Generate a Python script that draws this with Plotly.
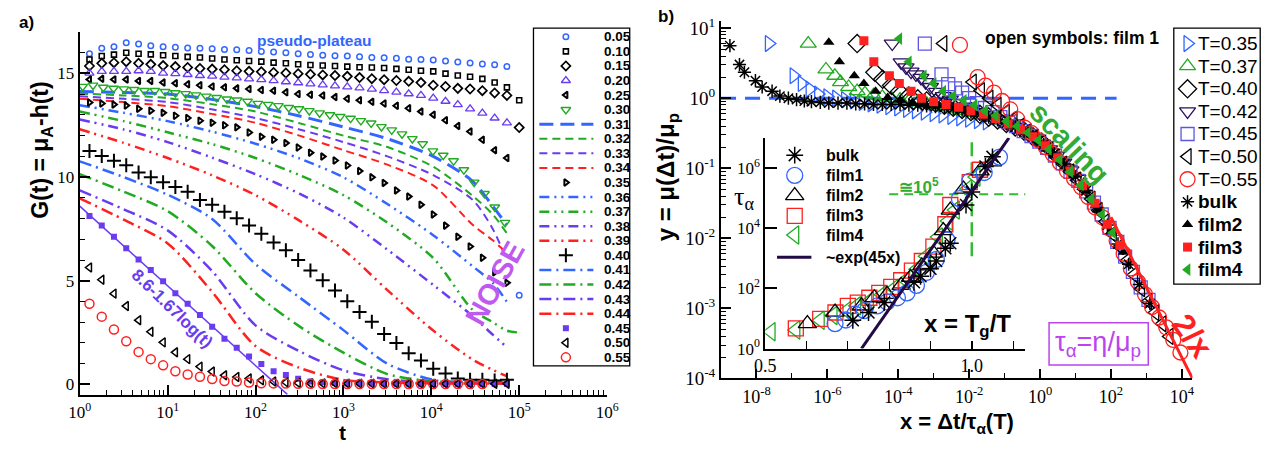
import plotly.graph_objects as go

W, H = 1284, 452

# ======================= PANEL a) data =======================
T_GRID = [1.29, 1.78, 2.45, 3.38, 4.67, 6.43, 8.88, 12.24, 16.89, 23.3, 32.1, 44.3, 61.1, 84.4,
          116.4, 160.5, 221.4, 305.4, 421.3, 581.3, 801.7, 1106, 1525, 2104, 2903, 4004, 5524,
          7620, 10510, 14500, 20000, 27590, 38060, 52500, 72420, 99900]
G_005 = [15.95, 16.21, 16.29, 16.48, 16.42, 16.33, 16.29, 16.26, 16.23, 16.21, 16.19, 16.16, 16.14,
         16.11, 16.06, 16.03, 16.0, 15.95, 15.91, 15.88, 15.85, 15.84, 15.8, 15.77, 15.76, 15.73,
         15.69, 15.67, 15.65, 15.6, 15.55, 15.5, 15.45, 15.42, 15.33, 4.3]
G_010 = [15.67, 15.84, 15.91, 16.0, 15.95, 15.92, 15.88, 15.84, 15.8, 15.77, 15.72, 15.67, 15.64,
         15.6, 15.57, 15.52, 15.49, 15.44, 15.41, 15.38, 15.36, 15.33, 15.3, 15.29, 15.26, 15.22,
         15.18, 15.13, 15.1, 14.99, 14.9, 14.84, 14.74, 14.56, 14.33, 13.71]
G_015 = [15.36, 15.49, 15.52, 15.57, 15.49, 15.44, 15.38, 15.33, 15.29, 15.24, 15.21, 15.18, 15.13,
         15.1, 15.08, 15.05, 15.02, 14.99, 14.96, 14.93, 14.9, 14.86, 14.8, 14.75, 14.7, 14.66,
         14.62, 14.56, 14.43, 14.37, 14.28, 14.25, 14.17, 14.06, 13.94, 12.39]
G_020 = [15.02, 15.1, 15.1, 15.1, 15.13, 15.1, 15.02, 14.99, 14.95, 14.9, 14.87, 14.82, 14.79,
         14.74, 14.7, 14.65, 14.6, 14.55, 14.5, 14.45, 14.4, 14.35, 14.3, 14.24, 14.17, 14.1,
         14.02, 13.94, 13.81, 13.66, 13.5, 13.29, 13.09, 12.85, 12.62, None]
G_025 = [14.71, 14.74, 14.71, 14.71, 14.64, 14.64, 14.56, 14.53, 14.48, 14.43, 14.37, 14.33, 14.28,
         14.25, 14.2, 14.17, 14.09, 14.01, 13.97, 13.94, 13.86, 13.78, 13.71, 13.63, 13.55, 13.44,
         13.32, 13.16, 13.01, 12.74, 12.47, 12.2, 11.8, 11.3, 10.92, None]
T_030 = [1.08, 1.415, 1.853, 2.427, 3.18, 4.164, 5.454, 7.143, 9.357, 12.25, 16.05, 21.02, 27.54,
         36.07, 47.24, 61.87, 81.04, 106.1, 139.0, 182.1, 238.5, 312.4, 409.2, 535.9, 702.0, 919.4,
         1204, 1578, 2066, 2706, 3544, 4643, 6081, 7965, 10430, 13660, 17890, 23440, 30700, 40210,
         52670, 68990]
G_030 = [14.37, 14.43, 14.33, 14.28, 14.25, 14.22, 14.17, 14.17, 14.12, 14.06, 14.02, 13.96, 13.9,
         13.83, 13.76, 13.71, 13.65, 13.55, 13.5, 13.44, 13.35, 13.29, 13.2, 13.09, 13.0, 12.92,
         12.83, 12.72, 12.6, 12.43, 12.27, 12.08, 11.85, 11.6, 11.26, 11.05, 10.78, 10.35, 9.75,
         9.2, 8.55, 7.81]
G_035 = [13.6, 13.55, 13.5, 13.45, 13.3, 13.2, 13.1, 12.96, 12.85, 12.72, 12.62, 12.5, 12.4, 12.15,
         11.95, 11.8, 11.64, 11.43, 11.18, 10.99, 10.8, 10.56, 10.29, 9.99, 9.72, 9.36, 9.06, 8.67,
         8.2, 7.66, 7.12, 6.65, 6.11, 5.41, 4.9, None]
G_040 = [11.26, 11.02, 10.79, 10.57, 10.22, 9.99, 9.75, 9.52, 9.29, 8.9, 8.67, 8.33, 8.01, 7.67,
         7.27, 6.84, 6.47, 6.0, 5.49, 5.02, 4.53, 4.01, 3.49, 3.02, 2.43, 2.0, 1.5, 1.16, 0.76,
         0.53, 0.29, 0.23, 0.23, 0.19, 0.23, None]
G_045 = [8.12, 7.66, 7.12, 6.57, 6.03, 5.52, 4.98, 4.4, 3.89, 3.35, 2.78, 2.2, 1.77, 1.35, 0.98,
         0.64, 0.45, 0.27, 0.14, 0.1, 0.07, 0.05, 0.05, 0.04, 0.04, 0.03, 0.03, 0.03, 0.02, 0.02,
         0.02, 0.02, 0.02, 0.02, 0.02, None]
G_050 = [5.64, 5.05, 4.38, 3.78, 3.1, 2.54, 2.03, 1.55, 1.22, 0.86, 0.62, 0.44, 0.36, 0.29, 0.2,
         0.14, 0.1, 0.07, 0.05, 0.05, 0.05, 0.04, 0.04, 0.04, 0.03, 0.03, 0.03, 0.03, 0.03, 0.03,
         0.03, 0.03, 0.03, 0.03, 0.03, None]
G_055 = [3.89, 3.27, 2.65, 2.08, 1.57, 1.22, 0.92, 0.64, 0.48, 0.37, 0.26, 0.17, 0.14, 0.09, 0.06,
         0.05, 0.04, 0.03, 0.03, 0.02, 0.02, 0.02, 0.02, 0.02, 0.02, 0.02, 0.02, 0.02, 0.02, 0.02,
         0.02, 0.02, 0.02, None, None, None]

LINE_T = [1, 3.16, 10, 31.6, 100, 316, 1000, 3162, 10500, 29500, 50000, 72000]
T_037 = [1, 3.16, 10, 31.6, 100, 316, 1000, 3162, 10500, 29500, 50000, 72000, 100000]
G_031 = [14.13, 14.08, 14.01, 13.75, 13.4, 12.95, 12.42, 11.85, 11.0, 9.8, 8.6, 7.7]
G_032 = [14.03, 13.94, 13.81, 13.52, 13.16, 12.6, 12.0, 11.45, 10.5, 9.1, 8.2, 7.3]
G_033 = [13.9, 13.78, 13.62, 13.27, 12.85, 12.3, 11.69, 11.0, 10.1, 8.9, 7.5, 6.0]
G_034 = [13.78, 13.62, 13.42, 13.05, 12.62, 12.0, 11.3, 10.6, 9.6, 7.7, 6.95, 6.35]
G_036 = [13.47, 13.1, 12.7, 12.2, 11.61, 10.9, 9.99, 8.7, 7.2, 5.7, 4.9, 4.0]
G_037 = [13.16, 12.7, 12.16, 11.6, 10.92, 10.1, 9.13, 7.8, 6.1, 3.6, 3.0, 2.6, 2.5]
G_038 = [12.78, 12.3, 11.69, 10.95, 10.14, 9.2, 8.05, 6.5, 4.8, 3.3, 2.4, 1.8]
G_039 = [12.31, 11.65, 10.92, 10.1, 9.13, 7.9, 6.5, 4.55, 2.6, 1.2, 0.7, 0.4]
G_041 = [10.76, 10.0, 9.15, 8.0, 5.8, 4.2, 2.62, 1.0, 0.22, 0.12, 0.1, 0.1]
G_042 = [10.14, 9.3, 8.36, 6.7, 4.4, 2.8, 1.53, 0.5, 0.15, 0.1, 0.08, 0.08]
G_043 = [9.36, 8.45, 7.43, 5.5, 2.85, 1.6, 0.68, 0.25, 0.1, 0.06, 0.05, 0.05]
G_044 = [8.98, 7.95, 6.8, 4.5, 1.85, 0.8, 0.22, 0.1, 0.05, 0.04, 0.04, 0.04]

FIT_T = [1, 230]
FIT_G = [8.6, -0.48]

LEFT_LABELS = ['0.05', '0.10', '0.15', '0.20', '0.25', '0.30', '0.31', '0.32', '0.33', '0.34',
               '0.35', '0.36', '0.37', '0.38', '0.39', '0.40', '0.41', '0.42', '0.43', '0.44',
               '0.45', '0.50', '0.55']

# ======================= PANEL b) data (log10 values) =======================
R35_LX = [-7.65, -6.95, -6.72, -6.5, -6.26, -6.0, -5.75, -5.5, -5.25, -5.0, -4.75, -4.5, -4.25,
          -4.0, -3.75, -3.5, -3.25, -3.0, -2.75, -2.5, -2.25, -2.0, -1.75, -1.5]
R35_LY = [0.78, 0.32, 0.21, 0.13, 0.06, 0.02, 0.0, -0.02, -0.04, -0.06, -0.08, -0.1, -0.12, -0.14,
          -0.16, -0.18, -0.2, -0.22, -0.24, -0.26, -0.28, -0.3, -0.32, -0.34]
R37_LX = [-6.54, -6.04, -5.79, -5.63, -5.4, -5.16, -4.94, -4.7, -4.45, -4.2, -3.95, -3.7, -3.45,
          -3.2, -2.95, -2.7, -2.45, -2.2, -1.95, -1.7, -1.45, -1.2]
R37_LY = [0.78, 0.41, 0.32, 0.23, 0.16, 0.1, 0.07, 0.04, 0.02, 0.0, -0.02, -0.04, -0.06, -0.08,
          -0.1, -0.12, -0.15, -0.18, -0.21, -0.25, -0.28, -0.32]
R40_LX = [-5.16, -4.66, -4.44, -4.19, -3.97, -3.7, -3.45, -3.2, -2.95, -2.7, -2.45, -2.2, -1.95,
          -1.7, -1.45, -1.2, -0.95, -0.7, -0.45, -0.2, 0.05]
R40_LY = [0.78, 0.37, 0.27, 0.18, 0.09, 0.03, -0.01, -0.04, -0.07, -0.1, -0.13, -0.16, -0.19,
          -0.23, -0.27, -0.31, -0.36, -0.41, -0.47, -0.55, -0.63]
R42_LX = [-4.17, -3.92, -3.78, -3.64, -3.5, -3.36, -3.23, -3.09, -2.92, -2.73, -2.53, -2.33, -2.13,
          -1.93, -1.73, -1.53, -1.33, -1.13, -0.93, -0.73, -0.53, -0.33, -0.13, 0.07, 0.27, 0.47,
          0.67, 0.87, 1.07]
R42_LY = [0.78, 0.51, 0.44, 0.38, 0.34, 0.29, 0.23, 0.16, 0.09, 0.03, -0.02, -0.07, -0.12, -0.16,
          -0.2, -0.24, -0.28, -0.32, -0.36, -0.41, -0.46, -0.52, -0.58, -0.65, -0.73, -0.82, -0.92,
          -1.03, -1.15]
R45_LX = [-3.25, -2.78, -2.59, -2.4, -2.2, -2.0, -1.78, -1.56, -1.34, -1.12, -0.9, -0.68, -0.46,
          -0.24, -0.02, 0.2, 0.42, 0.64, 0.86, 1.08, 1.3, 1.52, 1.74, 1.96, 2.18, 2.4, 2.62, 2.84,
          3.06]
R45_LY = [0.78, 0.34, 0.2, 0.14, 0.08, 0.0, -0.07, -0.14, -0.2, -0.27, -0.34, -0.4, -0.47, -0.54,
          -0.62, -0.71, -0.82, -0.93, -1.05, -1.18, -1.33, -1.49, -1.66, -1.85, -2.05, -2.26, -2.48,
          -2.7, -2.88]
R50_LX = [-2.73, -1.9, -1.67, -1.43, -1.2, -0.97, -0.75, -0.55, -0.35, -0.15, 0.05, 0.25, 0.45,
          0.65, 0.85, 1.05, 1.25, 1.45, 1.65, 1.85, 2.05, 2.25, 2.45, 2.65, 2.85, 3.05, 3.25, 3.45,
          3.65]
R50_LY = [0.78, 0.23, 0.11, 0.0, -0.1, -0.2, -0.3, -0.4, -0.48, -0.56, -0.64, -0.74, -0.84, -0.94,
          -1.05, -1.17, -1.3, -1.44, -1.6, -1.76, -1.94, -2.12, -2.32, -2.52, -2.72, -2.9, -3.06,
          -3.22, -3.4]
R55_LX = [-2.26, -1.76, -1.54, -1.3, -1.07, -0.84, -0.64, -0.44, -0.24, -0.04, 0.16, 0.36, 0.56,
          0.76, 0.96, 1.16, 1.36, 1.56, 1.76, 1.96, 2.16, 2.36, 2.56, 2.76, 2.96, 3.16, 3.36, 3.56,
          3.76, 3.96]
R55_LY = [0.76, 0.3, 0.18, 0.08, -0.04, -0.16, -0.3, -0.42, -0.5, -0.6, -0.7, -0.8, -0.92, -1.04,
          -1.15, -1.27, -1.41, -1.56, -1.7, -1.86, -2.03, -2.22, -2.43, -2.62, -2.8, -2.98, -3.13,
          -3.27, -3.45, -3.63]
BULK_LX = [-8.75, -8.48, -8.34, -8.03, -7.84, -7.56, -7.34, -7.1, -6.87, -6.65, -6.45, -6.2, -5.96,
           -5.7, -5.45, -5.2, -4.95, -4.7, -4.45, -4.2, -3.95, -3.7, -3.45, -3.2, -2.95, -2.7,
           -2.45, -2.2, -1.95, -1.7, -1.45, -1.2, -0.95, -0.7, -0.45, -0.2, 0.1, 0.4, 0.7, 1.0,
           1.3, 1.6, 1.9, 2.2, 2.5, 2.8, 3.1]
BULK_LY = [0.75, 0.48, 0.37, 0.25, 0.16, 0.1, 0.03, 0.0, -0.02, -0.04, -0.05, -0.06, -0.07, -0.07,
           -0.07, -0.08, -0.08, -0.09, -0.09, -0.09, -0.09, -0.1, -0.1, -0.11, -0.12, -0.13, -0.15,
           -0.17, -0.2, -0.23, -0.27, -0.31, -0.36, -0.41, -0.48, -0.55, -0.66, -0.79, -0.94,
           -1.12, -1.32, -1.56, -1.81, -2.08, -2.37, -2.66, -2.93]
F2_LX = [-5.96, -5.66, -5.24, -4.97, -4.64, -4.3, -3.95, -3.6, -3.25, -2.9, -2.55, -2.2, -1.85,
         -1.5, -1.15, -0.8, -0.45, -0.1, 0.25, 0.6, 0.95, 1.3, 1.65, 2.0, 2.35]
F2_LY = [0.8, 0.52, 0.32, 0.21, 0.1, 0.01, -0.03, -0.06, -0.08, -0.1, -0.13, -0.17, -0.21, -0.26,
         -0.32, -0.4, -0.48, -0.58, -0.72, -0.9, -1.1, -1.32, -1.6, -1.9, -2.2]
F3_LX = [-4.97, -4.69, -4.25, -3.97, -3.64, -3.34, -3.0, -2.65, -2.3, -1.95, -1.6, -1.25, -0.9,
         -0.55, -0.2, 0.15, 0.5, 0.85, 1.2, 1.55, 1.9, 2.25]
F3_LY = [0.82, 0.52, 0.32, 0.21, 0.1, 0.0, -0.05, -0.09, -0.13, -0.18, -0.23, -0.29, -0.37, -0.45,
         -0.55, -0.68, -0.85, -1.04, -1.25, -1.5, -1.8, -2.1]
F4_LX = [-3.97, -3.7, -3.28, -3.0, -2.73, -2.45, -2.15, -1.85, -1.55, -1.25, -0.95, -0.65, -0.35,
         -0.05, 0.25, 0.55, 0.85, 1.15, 1.45, 1.75, 2.05]
F4_LY = [0.85, 0.52, 0.32, 0.21, 0.1, 0.03, -0.03, -0.1, -0.18, -0.25, -0.33, -0.4, -0.49, -0.6,
         -0.73, -0.88, -1.05, -1.24, -1.44, -1.66, -1.92]
ONE_LX = [-9, 2.16]
ONE_Y = [1, 1]
INV_X = [100, 20000]
INV_Y = [0.02, 0.0001]

# inset: x = Tg/T, log10(tau)
IN_BULK_X = [0.712, 0.75, 0.788, 0.86, 0.876, 0.9, 0.914, 0.936, 0.948, 0.986, 1.0, 1.033, 1.05]
IN_BULK_LY = [0.94, 1.2, 1.53, 2.2, 2.4, 2.65, 2.91, 3.33, 3.5, 4.77, 5.2, 6.05, 6.37]
IN_F1_X = [0.669, 0.695, 0.717, 0.74, 0.771, 0.795, 0.82, 0.843, 0.866, 0.89, 0.914, 0.94, 0.97,
           0.995, 1.03, 1.067]
IN_F1_LY = [0.83, 0.95, 1.15, 1.26, 1.42, 1.55, 1.69, 1.85, 2.1, 2.53, 2.96, 3.6, 4.98, 5.56,
            5.85, 6.36]
IN_F2_X = [0.602, 0.669, 0.733, 0.764, 0.795, 0.829, 0.852, 0.879, 0.907, 0.931, 0.948, 0.98,
           1.02, 1.05]
IN_F2_LY = [0.83, 1.21, 1.42, 1.69, 1.8, 2.1, 2.37, 2.75, 3.17, 3.92, 4.6, 5.3, 5.9, 6.2]
IN_F3_X = [0.574, 0.633, 0.67, 0.7, 0.724, 0.752, 0.776, 0.805, 0.829, 0.855, 0.879, 0.907,
           0.936, 0.948, 0.995, 1.02]
IN_F3_LY = [0.67, 0.99, 1.2, 1.42, 1.53, 1.69, 1.85, 2.05, 2.27, 2.59, 2.91, 3.39, 4.13, 4.77,
            5.53, 5.94]
IN_F4_X = [0.514, 0.574, 0.633, 0.664, 0.697, 0.721, 0.752, 0.783, 0.812, 0.84, 0.867, 0.89,
           0.919, 0.943, 0.96, 0.99, 1.01]
IN_F4_LY = [0.56, 0.62, 0.94, 1.1, 1.26, 1.42, 1.58, 1.79, 2.0, 2.27, 2.64, 3.07, 3.71, 4.24, 4.6,
            5.3, 5.7]
EXP_X = [0.733, 1.09]
EXP_LY = [0.0, 7.0]
GH_X = [0.80, 1.13]
GH_LY = [5.13, 5.13]
GV_X = [1.0, 1.0]
GV_LY = [3.07, 7.0]

RIGHT_LABELS = ['T=0.35', 'T=0.37', 'T=0.40', 'T=0.42', 'T=0.45', 'T=0.50', 'T=0.55',
                'bulk', 'film2', 'film3', 'film4']
INSET_LABELS = ['bulk', 'film1', 'film2', 'film3', 'film4', '~exp(45x)']

# ======================= styling =======================
BLUE = '#3366ff'
GREEN = '#22aa22'
VIOLET = '#6a3cf0'
RED = '#ff2020'
BLACK = '#000000'
INDIGO = '#2a0f5c'
LAV = '#5b55e6'
DARK = '#220a44'
SANS = 'Liberation Sans'
SERIF = 'Liberation Serif'


def fx(p):
    return p / W


def fy(p):
    return 1 - p / H


def pow10(vals):
    return [10 ** v for v in vals]


fig = go.Figure()


def add(x, y, ax, **kw):
    xa, ya = ax
    fig.add_trace(go.Scatter(x=x, y=y, xaxis=xa, yaxis=ya, showlegend=False,
                             hoverinfo='skip', **kw))


A = ('x', 'y')
B = ('x2', 'y2')
C = ('x3', 'y3')
L = ('x4', 'y4')

DASH1 = '14px,7px'
DASH2 = '8px,5px'
DDOT = '10px,5px,2px,5px,2px,5px'
DDASH = '12px,5px,2px,5px'

LINE_STYLE = {
    '0.31': (LINE_T, G_031, BLUE, 3, DASH1),
    '0.32': (LINE_T, G_032, GREEN, 2, DASH2),
    '0.33': (LINE_T, G_033, VIOLET, 2, DASH2),
    '0.34': (LINE_T, G_034, RED, 2, DASH2),
    '0.36': (LINE_T, G_036, BLUE, 2.5, DDOT),
    '0.37': (T_037, G_037, GREEN, 2.5, DDOT),
    '0.38': (LINE_T, G_038, VIOLET, 2.5, DDOT),
    '0.39': (LINE_T, G_039, RED, 2.5, DDOT),
    '0.41': (LINE_T, G_041, BLUE, 2.5, DDASH),
    '0.42': (LINE_T, G_042, GREEN, 2.5, DDASH),
    '0.43': (LINE_T, G_043, VIOLET, 2.5, DDASH),
    '0.44': (LINE_T, G_044, RED, 2.5, DDASH),
}
MARK_STYLE = {
    '0.05': (T_GRID, G_005, 'circle-open', 5.5, BLUE, 1.5),
    '0.10': (T_GRID, G_010, 'square-open', 5, BLACK, 1.6),
    '0.15': (T_GRID, G_015, 'diamond-open', 7, BLACK, 1.7),
    '0.20': (T_GRID, G_020, 'triangle-up-open', 8, VIOLET, 1.3),
    '0.25': (T_GRID, G_025, 'triangle-left-open', 6, BLACK, 2.0),
    '0.30': (T_030, G_030, 'triangle-down-open', 8.5, GREEN, 1.4),
    '0.35': (T_GRID, G_035, 'triangle-right-open', 6, BLACK, 2.0),
    '0.40': (T_GRID, G_040, 'cross-thin-open', 10, BLACK, 2),
    '0.45': (T_GRID, G_045, 'square', 6, VIOLET, 0),
    '0.50': (T_GRID, G_050, 'triangle-left-open', 8, BLACK, 1.5),
    '0.55': (T_GRID, G_055, 'circle-open', 9, RED, 1.5),
}

# ---- panel a traces ----
for lab, (tx, gy, col, wd, ds) in LINE_STYLE.items():
    add(tx, gy, A, mode='lines', line=dict(color=col, width=wd, dash=ds, shape='spline',
                                           smoothing=0.8))
add(FIT_T, FIT_G, A, mode='lines', line=dict(color=VIOLET, width=1.5))
for lab, (tx, gy, sym, sz, col, lw) in MARK_STYLE.items():
    add(tx, gy, A, mode='markers',
        marker=dict(symbol=sym, size=sz, color=col, line=dict(color=col, width=lw)))

# ---- panel b traces ----
add(pow10(ONE_LX), ONE_Y, B, mode='lines', line=dict(color=BLUE, width=3, dash='15px,9px'))
RIGHT_SERIES = [
    (R35_LX, R35_LY, 'triangle-right-open', 14, BLUE, 1.3),
    (R37_LX, R37_LY, 'triangle-up-open', 14, GREEN, 1.3),
    (R40_LX, R40_LY, 'diamond-open', 14, BLACK, 1.3),
    (R42_LX, R42_LY, 'triangle-down-open', 14, INDIGO, 1.3),
    (R45_LX, R45_LY, 'square-open', 13, LAV, 1.3),
    (R50_LX, R50_LY, 'triangle-left-open', 14, BLACK, 1.3),
    (R55_LX, R55_LY, 'circle-open', 15, RED, 1.3),
    (BULK_LX, BULK_LY, 'asterisk-open', 11, BLACK, 1.5),
    (F2_LX, F2_LY, 'triangle-up', 10, BLACK, 0),
    (F3_LX, F3_LY, 'square', 9, RED, 0),
    (F4_LX, F4_LY, 'triangle-left', 11, GREEN, 0),
]
for lx, ly, sym, sz, col, lw in RIGHT_SERIES:
    add(pow10(lx), pow10(ly), B, mode='markers',
        marker=dict(symbol=sym, size=sz, color=col, line=dict(color=col, width=lw)))
add(INV_X, INV_Y, B, mode='lines', line=dict(color=RED, width=3))

# ---- inset traces ----
add(GH_X, pow10(GH_LY), C, mode='lines', line=dict(color='#33bb33', width=2, dash='9px,6px'))
add(GV_X, pow10(GV_LY), C, mode='lines', line=dict(color='#33bb33', width=2.5, dash='14px,6px'))
INSET_SERIES = [
    (IN_F4_X, IN_F4_LY, 'triangle-left-open', 16, GREEN, 1.3),
    (IN_F3_X, IN_F3_LY, 'square-open', 15, RED, 1.3),
    (IN_F2_X, IN_F2_LY, 'triangle-up-open', 16, BLACK, 1.3),
    (IN_F1_X, IN_F1_LY, 'circle-open', 16, BLUE, 1.3),
    (IN_BULK_X, IN_BULK_LY, 'asterisk-open', 14, BLACK, 1.5),
]
for xx, ly, sym, sz, col, lw in INSET_SERIES:
    add(xx, pow10(ly), C, mode='markers',
        marker=dict(symbol=sym, size=sz, color=col, line=dict(color=col, width=lw)))
add(EXP_X, pow10(EXP_LY), C, mode='lines', line=dict(color=DARK, width=3))

# ======================= hand-drawn legends (overlay axes in pixels) =======================
annotations = []


def text(xp, yp, s, size, color=BLACK, family=SANS, angle=0, xanchor='center'):
    annotations.append(dict(x=fx(xp), y=fy(yp), xref='paper', yref='paper', text=s,
                            showarrow=False, textangle=angle, xanchor=xanchor,
                            yanchor='middle', font=dict(family=family, size=size,
                                                        color=color)))


# left legend
LL_ROW0, LL_DY, LL_SYM, LL_L0, LL_L1, LL_TXT = 32, 15.14, 565, 538, 593, 602
for i, lab in enumerate(LEFT_LABELS):
    yy = LL_ROW0 + i * LL_DY
    if lab in LINE_STYLE:
        _, _, col, wd, ds = LINE_STYLE[lab]
        add([LL_L0, LL_L1], [yy, yy], L, mode='lines', line=dict(color=col, width=wd, dash=ds))
    else:
        _, _, sym, sz, col, lw = MARK_STYLE[lab]
        add([LL_SYM], [yy], L, mode='markers',
            marker=dict(symbol=sym, size=sz, color=col, line=dict(color=col, width=lw)))
    text(LL_TXT, yy, '<b>%s</b>' % lab, 13.5, xanchor='left')

# right legend
RL_ROW0, RL_DY, RL_SYM, RL_TXT = 39, 23.5, 1198, 1207
for i, lab in enumerate(RIGHT_LABELS):
    yy = RL_ROW0 + i * RL_DY
    _, _, sym, sz, col, lw = RIGHT_SERIES[i]
    add([RL_SYM], [yy], L, mode='markers',
        marker=dict(symbol=sym, size=sz, color=col, line=dict(color=col, width=lw)))
    s = lab if lab.startswith('T=') else '<b>%s</b>' % lab
    text(RL_TXT, yy, s, 19, xanchor='left')

# inset legend
IL_ROWS = [155, 176, 197, 218, 238, 261]
IL_SYM, IL_L0, IL_L1, IL_TXT = 798, 780, 815, 828
INSET_LEG_STYLE = [INSET_SERIES[4], INSET_SERIES[3], INSET_SERIES[2], INSET_SERIES[1],
                   INSET_SERIES[0]]
for i, lab in enumerate(INSET_LABELS):
    yy = IL_ROWS[i]
    if i < 5:
        _, _, sym, sz, col, lw = INSET_LEG_STYLE[i]
        add([IL_SYM], [yy], L, mode='markers',
            marker=dict(symbol=sym, size=sz, color=col, line=dict(color=col, width=lw)))
    else:
        add([IL_L0, IL_L1], [yy, yy], L, mode='lines', line=dict(color=DARK, width=3))
    text(IL_TXT, yy, '<b>%s</b>' % lab, 16, xanchor='left')

# ======================= other texts =======================
text(16, 17, '<b>a)</b>', 17)
text(667, 11, '<b>b)</b>', 17)
text(309, 36, '<b>pseudo-plateau</b>', 15.5, color=BLUE)
text(164, 314, '<b>8.6-1.67log(t)</b>', 17, color=VIOLET, angle=44)
text(493, 288, '<b>NOISE</b>', 29, color='#be5af0', angle=-61)
text(31, 150, '<b>G(t) = μ<sub>A</sub>-h(t)</b>', 23, angle=-90)
text(338, 443, '<b>t</b>', 21)
text(668, 178, '<b>y = μ(Δt)/μ<sub>p</sub></b>', 24, angle=-90)
text(963, 433, '<b>x = Δt/τ<sub>α</sub>(T)</b>', 22)
text(990, 33, '<b>open symbols: film 1</b>', 17.5, xanchor='left')
text(1078, 142, '<b>scaling</b>', 29, color='#33aa33', angle=46)
text(1203, 343, '<b>2/x</b>', 32, color=RED, angle=54)
text(1107, 351, 'τ<sub>α</sub>=η/μ<sub>p</sub>', 27, color='#bb44ee')
text(974, 332, '<b>x = T<sub>g</sub>/T</b>', 24)
text(925, 187, '<b>≅10<sup>5</sup></b>', 17, color='#33aa33')
text(746, 200, 'τ<sub>α</sub>', 26, family=SERIF)

shapes = [
    dict(type='rect', xref='paper', yref='paper', x0=fx(532), x1=fx(630), y0=fy(374), y1=fy(23),
         line=dict(color=BLACK, width=1.3), fillcolor='rgba(0,0,0,0)', layer='above'),
    dict(type='rect', xref='paper', yref='paper', x0=fx(1184), x1=fx(1272), y0=fy(289),
         y1=fy(23), line=dict(color=BLACK, width=1.3), fillcolor='rgba(0,0,0,0)', layer='above'),
    dict(type='rect', xref='paper', yref='paper', x0=fx(1057), x1=fx(1158), y0=fy(373),
         y1=fy(329), line=dict(color='#bb44ee', width=1.5), fillcolor='rgba(0,0,0,0)',
         layer='above'),
]


def sup(e):
    return '10<sup>%d</sup>' % e


def log_minor(lo, hi):
    return [m * 10.0 ** e for e in range(lo, hi) for m in range(2, 10)]


AX = dict(showline=True, linewidth=2, linecolor=BLACK, ticks='inside', tickwidth=1.5,
          tickcolor=BLACK, showgrid=False, zeroline=False, mirror=False)

layout = dict(
    width=W, height=H, margin=dict(l=0, r=0, t=0, b=0),
    paper_bgcolor='white', plot_bgcolor='rgba(0,0,0,0)', showlegend=False,
    xaxis=dict(AX, domain=[fx(70), fx(607)], type='log', range=[0, 6], anchor='y',
               tickvals=[10 ** e for e in range(0, 7)], ticktext=[sup(e) for e in range(0, 7)],
               ticklen=10, ticklabelstandoff=1, tickfont=dict(family=SERIF, size=17, color=BLACK),
               minor=dict(ticks='inside', ticklen=5, tickwidth=1.2, tickcolor=BLACK,
                          tickvals=log_minor(0, 6))),
    yaxis=dict(AX, domain=[fy(404), fy(27)], range=[-0.5, 17], anchor='x',
               tickvals=[0, 5, 10, 15], ticklen=10,
               tickfont=dict(family=SERIF, size=17, color=BLACK),
               minor=dict(ticks='inside', ticklen=5, tickwidth=1.2, tickcolor=BLACK,
                          tickvals=[1, 2, 3, 4, 6, 7, 8, 9, 11, 12, 13, 14, 16])),
    xaxis2=dict(AX, domain=[fx(723), fx(1203)], type='log', range=[-9, 4.3], anchor='y2',
                tickvals=[10.0 ** e for e in range(-8, 5, 2)],
                ticktext=[sup(e) for e in range(-8, 5, 2)], ticklen=9, ticklabelstandoff=1,
                tickfont=dict(family=SERIF, size=18, color=BLACK),
                minor=dict(ticks='inside', ticklen=5, tickwidth=1.2, tickcolor=BLACK,
                           tickvals=[10.0 ** e for e in range(-9, 5, 2)])),
    yaxis2=dict(AX, domain=[fy(387), fy(16)], type='log', range=[-4, 1.096], anchor='x2',
                tickvals=[10.0 ** e for e in range(-4, 2)],
                ticktext=[sup(e) for e in range(-4, 2)], ticklen=10,
                tickfont=dict(family=SERIF, size=19, color=BLACK),
                minor=dict(ticks='inside', ticklen=5, tickwidth=1.2, tickcolor=BLACK,
                           tickvals=log_minor(-4, 1))),
    xaxis3=dict(AX, domain=[fx(768), fx(1033)], range=[0.5, 1.13], anchor='y3',
                tickvals=[0.5, 1.0], ticktext=['0.5', '1.0'], ticklen=8,
                tickfont=dict(family=SERIF, size=18, color=BLACK),
                minor=dict(ticks='inside', ticklen=8, tickwidth=1.2, tickcolor=BLACK,
                           tickvals=[0.6, 0.7, 0.8, 0.9, 1.1])),
    yaxis3=dict(AX, domain=[fy(356), fy(137)], type='log', range=[0, 7], anchor='x3',
                tickvals=[1, 1e2, 1e4, 1e6], ticktext=[sup(e) for e in (0, 2, 4, 6)],
                ticklen=12, tickfont=dict(family=SERIF, size=17, color=BLACK)),
    xaxis4=dict(domain=[0, 1], range=[0, W], visible=False, anchor='y4', fixedrange=True),
    yaxis4=dict(domain=[0, 1], range=[H, 0], visible=False, anchor='x4', fixedrange=True),
    annotations=annotations, shapes=shapes,
)
fig.update_layout(**layout)
fig.write_html('out.html')
